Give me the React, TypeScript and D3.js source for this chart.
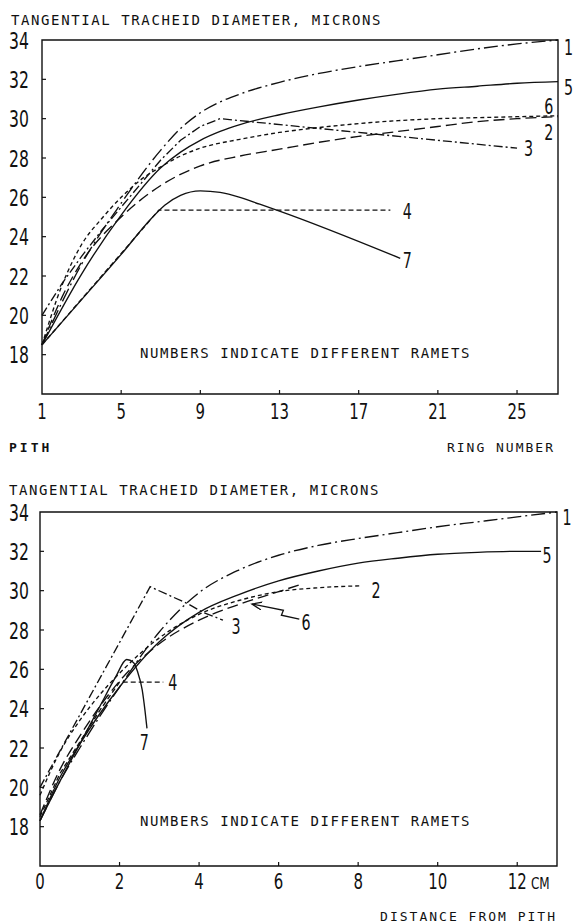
import * as d3 from 'd3';

type Pt = [number, number];

// tick values
const yTicks = [18, 20, 22, 24, 26, 28, 30, 32, 34];
const ringTicks = [1, 5, 9, 13, 17, 21, 25];
const cmTicks = [0, 2, 4, 6, 8, 10, 12];

// upper panel: diameter by ring number
const ring1: Pt[] = [[1, 18.5], [3, 22.6], [5, 25.7], [7, 28.4], [8, 29.5], [9, 30.3], [10, 30.85], [11, 31.25], [13, 31.85], [15, 32.3], [17, 32.65], [19, 32.95], [21, 33.25], [23, 33.55], [25, 33.8], [27.07, 34]];
const ring2: Pt[] = [[1, 18.5], [2, 21.5], [3, 23.6], [4, 24.9], [5, 26.0], [6, 26.9], [7, 27.55], [8, 28.1], [9, 28.5], [11, 28.95], [13, 29.3], [15, 29.55], [17, 29.75], [19, 29.9], [21, 30.0], [23, 30.05], [25, 30.1], [27.07, 30.15]];
const ring3: Pt[] = [[1, 20], [2, 21.6], [3, 23.0], [4, 24.3], [5, 25.5], [6, 26.7], [7, 27.9], [8, 28.9], [9, 29.6], [10, 30.0], [25, 28.5]];
const ring4: Pt[] = [[1, 18.5], [6.9, 25.35], [18.6, 25.35]];
const ring5: Pt[] = [[1, 18.5], [3, 22.1], [5, 25.1], [7, 27.5], [8, 28.3], [9, 28.9], [10, 29.35], [11, 29.7], [13, 30.2], [15, 30.6], [17, 30.95], [19, 31.25], [21, 31.5], [23, 31.65], [25, 31.8], [27.07, 31.88]];
const ring6: Pt[] = [[1, 18.5], [2, 20.9], [3, 22.7], [5, 25.0], [7, 26.6], [9, 27.6], [11, 28.1], [13, 28.45], [15, 28.8], [17, 29.1], [19, 29.35], [21, 29.6], [23, 29.85], [25, 30.0], [27.07, 30.1]];
const ring7: Pt[] = [[1, 18.5], [3, 20.8], [5, 23.1], [6.5, 24.9], [7.2, 25.6], [8, 26.1], [9, 26.33], [10, 26.25], [11, 26.0], [12, 25.65], [13, 25.3], [19.1, 22.9]];

// lower panel: diameter by distance from pith (cm)
const cm1: Pt[] = [[0, 18.3], [0.5, 20.3], [1, 22.0], [2, 25.1], [3, 27.9], [4, 29.9], [5, 31.05], [6, 31.8], [7, 32.3], [8, 32.65], [9, 32.95], [10, 33.25], [11, 33.5], [12, 33.75], [13, 34]];
const cm2: Pt[] = [[0, 19.6], [0.5, 21.8], [1, 23.4], [1.5, 24.7], [2, 25.8], [3, 27.6], [4, 28.8], [5, 29.5], [6, 29.95], [7, 30.15], [8.1, 30.25]];
const cm3: Pt[] = [[0, 20], [2.77, 30.2], [3.7, 29.35], [4.1, 28.9], [4.6, 28.5]];
const cm4: Pt[] = [[0, 18.5], [0.5, 20.7], [1, 22.3], [1.5, 23.9], [2, 25.35], [3.1, 25.35]];
const cm5: Pt[] = [[0, 18.3], [0.5, 20.5], [1, 22.2], [2, 25.1], [3, 27.4], [4, 28.9], [5, 29.8], [6, 30.5], [7, 31.0], [8, 31.4], [9, 31.65], [10, 31.85], [11, 31.95], [12, 32.0], [12.6, 32.0]];
const cm6: Pt[] = [[0, 18.6], [0.5, 20.9], [1, 22.6], [2, 25.4], [3, 27.3], [4, 28.5], [5, 29.3], [6, 29.95], [6.6, 30.35]];
const cm7: Pt[] = [[0, 18.3], [0.5, 20.3], [1, 22.2], [1.5, 24.1], [1.9, 25.6], [2.18, 26.5], [2.35, 26.35], [2.45, 25.9], [2.57, 24.95], [2.64, 23.9], [2.69, 23.0]];
const cm6Arrow: Pt[] = [[6.52, 28.55], [6.07, 28.75], [6.12, 29.0], [5.33, 29.32]];

// ramet number labels [name, x, y]
const ringLabels: [string, number, number][] = [['1', 27.6, 33.64], ['5', 27.6, 31.56], ['6', 26.6, 30.62], ['2', 26.6, 29.32], ['3', 25.58, 28.46], ['4', 19.46, 25.27], ['7', 19.46, 22.8]];
const cmLabels: [string, number, number][] = [['1', 13.25, 33.7], ['5', 12.75, 31.8], ['2', 8.45, 30.03], ['6', 6.69, 28.4], ['3', 4.93, 28.2], ['4', 3.34, 25.35], ['7', 2.62, 22.3]];

const MONO = "'DejaVu Sans Mono', 'Liberation Mono', monospace";
const DASH1 = '14 4 2 4';
const DASH3 = '9 3 2 3';
const DASH2 = '4 3';
const DASH6 = '11 5';
const DASH4 = '5 3';

type Series = { data: Pt[]; dash?: string; linear?: boolean };

const Num = ({ x, y, size, anchor, children }: { x: number; y: number; size: number; anchor: string; children: any }) => (
    <text transform={`translate(${x},${y}) scale(0.68,1)`} fontSize={size} textAnchor={anchor} fontFamily="'DejaVu Sans', sans-serif" fill="#111">
        {children}
    </text>
);

const Panel = ({ series, labels, xDomain, xRange, yRange, xTicks, tickSize, extra }: {
    series: Series[]; labels: [string, number, number][]; xDomain: [number, number]; xRange: [number, number];
    yRange: [number, number]; xTicks: number[]; tickSize: number; extra?: (x: any, y: any) => any;
}) => {
    const x = d3.scaleLinear().domain(xDomain).range(xRange);
    const y = d3.scaleLinear().domain([16, 34]).range(yRange);
    const [x0, x1] = xRange;
    const [yb, yt] = yRange;

    return (
        <g>
            {series.map((s, i) => {
                const line = d3.line<Pt>()
                    .x(d => x(d[0]))
                    .y(d => y(d[1]))
                    .curve(s.linear ? d3.curveLinear : d3.curveMonotoneX);
                return <path key={i} d={line(s.data) ?? ''} fill="none" stroke="#111" strokeWidth={1.35} strokeDasharray={s.dash} />;
            })}
            {/* frame */}
            <path d={`M${x0},${yt} V${yb} H${x1} V${yt} Z`} fill="none" stroke="#111" strokeWidth={1.4} />
            {yTicks.map(t => (
                <g key={t}>
                    {t < 34 && <line x1={x0} x2={x0 + 4} y1={y(t)} y2={y(t)} stroke="#111" strokeWidth={1.2} />}
                    <Num x={29} y={y(t) + 8.5} size={23} anchor="end">{t}</Num>
                </g>
            ))}
            {xTicks.map((t, i) => (
                <g key={t}>
                    {i > 0 && <line x1={x(t)} x2={x(t)} y1={yb} y2={yb - 4} stroke="#111" strokeWidth={1.2} />}
                    <Num x={x(t)} y={yb + tickSize} size={22} anchor="middle">{t}</Num>
                </g>
            ))}
            {labels.map(([n, lx, ly]) => (
                <Num key={n} x={x(lx)} y={y(ly) + 7.5} size={21} anchor="middle">{n}</Num>
            ))}
            {extra && extra(x, y)}
        </g>
    );
};

const App = () => {
    const arrowLine = (x: any, y: any) => (
        <path d={d3.line<Pt>().x(d => x(d[0])).y(d => y(d[1]))(cm6Arrow) ?? ''} fill="none" stroke="#111" strokeWidth={1.3} markerEnd="url(#arr)" />
    );

    return (
        <svg width={576} height={924} style={{ position: 'absolute', left: 0, top: 0, background: '#fff' }}>
            <defs>
                <marker id="arr" markerUnits="userSpaceOnUse" markerWidth={12} markerHeight={10} refX={10} refY={4} orient="auto">
                    <path d="M0,0 L10,4 L0,8" fill="none" stroke="#111" strokeWidth={1.3} />
                </marker>
            </defs>
            <rect width={576} height={924} fill="#fff" />

            <text x={11} y={25} fontFamily={MONO} fontSize={14} letterSpacing={1.6} fill="#111">TANGENTIAL TRACHEID DIAMETER, MICRONS</text>
            <Panel
                series={[
                    { data: ring1, dash: DASH1 },
                    { data: ring2, dash: DASH2 },
                    { data: ring3, dash: DASH3, linear: true },
                    { data: ring4, dash: DASH4, linear: true },
                    { data: ring5 },
                    { data: ring6, dash: DASH6 },
                    { data: ring7 },
                ]}
                labels={ringLabels}
                xDomain={[1, 27.07]} xRange={[42, 558]} yRange={[394, 40]}
                xTicks={ringTicks} tickSize={25}
            />
            <text x={140} y={358} fontFamily={MONO} fontSize={14} letterSpacing={1.6} fill="#111">NUMBERS INDICATE DIFFERENT RAMETS</text>
            <text x={9} y={452} fontFamily={MONO} fontSize={13} letterSpacing={3} fontWeight="bold" fill="#111">PITH</text>
            <text x={555} y={452} fontFamily={MONO} fontSize={13} letterSpacing={2} textAnchor="end" fill="#111">RING NUMBER</text>

            <text x={9} y={495} fontFamily={MONO} fontSize={14} letterSpacing={1.6} fill="#111">TANGENTIAL TRACHEID DIAMETER, MICRONS</text>
            <Panel
                series={[
                    { data: cm1, dash: DASH1 },
                    { data: cm2, dash: DASH2 },
                    { data: cm3, dash: DASH3, linear: true },
                    { data: cm4, dash: DASH4, linear: true },
                    { data: cm5 },
                    { data: cm6, dash: DASH6 },
                    { data: cm7 },
                ]}
                labels={cmLabels}
                xDomain={[0, 13]} xRange={[40, 557]} yRange={[866, 512]}
                xTicks={cmTicks} tickSize={23}
                extra={arrowLine}
            />
            <text x={531} y={889} fontFamily="'DejaVu Sans', sans-serif" fontSize={15} fill="#111" transform="translate(531,889) scale(0.8,1) translate(-531,-889)">CM</text>
            <text x={140} y={826} fontFamily={MONO} fontSize={14} letterSpacing={1.6} fill="#111">NUMBERS INDICATE DIFFERENT RAMETS</text>
            <text x={557} y={921} fontFamily={MONO} fontSize={13} letterSpacing={2} textAnchor="end" fill="#111">DISTANCE FROM PITH</text>
        </svg>
    );
};

export default App;
